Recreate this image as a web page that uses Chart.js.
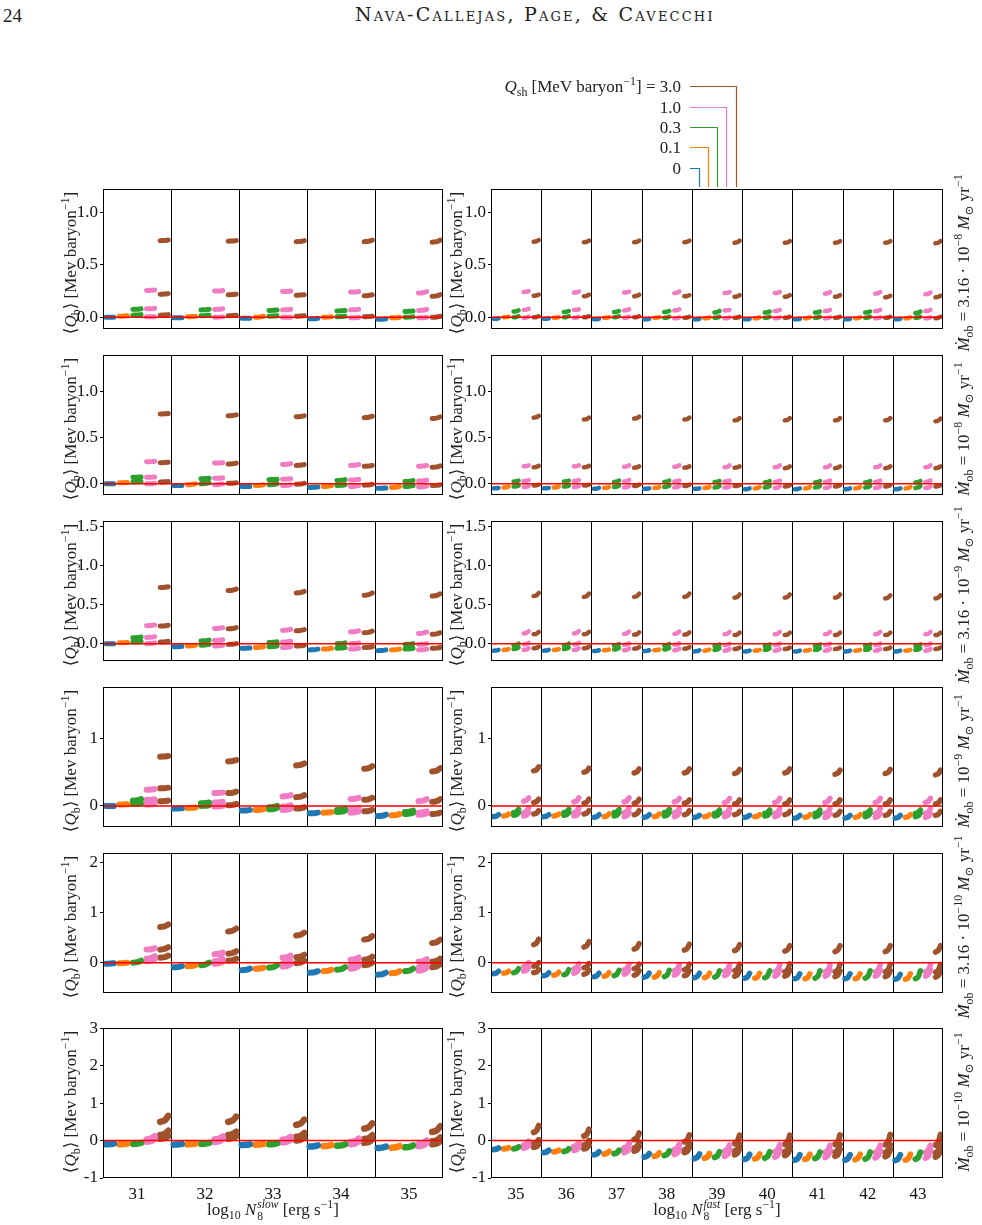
<!DOCTYPE html>
<html><head><meta charset="utf-8">
<script src="https://cdn.jsdelivr.net/npm/chart.js@4.4.1/dist/chart.umd.min.js"></script>
<style>
body{margin:0;background:#fff;width:982px;height:1225px;position:relative;overflow:hidden;font-family:'Liberation Serif','DejaVu Serif',serif;color:#222;}
.t{position:absolute;white-space:nowrap;font-size:17px;line-height:1;}
.rot{position:absolute;white-space:nowrap;transform:translate(-50%,-50%) rotate(-90deg);font-size:17px;line-height:1;}
canvas{position:absolute;}
sub,sup{font-size:70%;line-height:0;}
.ss{display:inline-block;vertical-align:-5px;line-height:1;font-size:68%;text-align:left;margin-left:1px;}
.ss span{display:block;}
</style></head><body>
<script>
// ---------- categories & labels ----------
const slowCats=[31,32,33,34,35];
const fastCats=[35,36,37,38,39,40,41,42,43];
const qshLabels=['0','0.1','0.3','1.0','3.0'];
const mdotLabels=['3.16 · 10<sup>−8</sup>','10<sup>−8</sup>','3.16 · 10<sup>−9</sup>','10<sup>−9</sup>','3.16 · 10<sup>−10</sup>','10<sup>−10</sup>'];
const yTicksRows=[[0,0.5,1],[0,0.5,1],[0,0.5,1,1.5],[0,1],[0,1,2],[-1,0,1,2,3]];
const yRangeRows=[[-0.11,1.22],[-0.12,1.4],[-0.22,1.57],[-0.31,1.76],[-0.6,2.18],[-1,3]];

// ---------- streak data: per category, pairs [start,end] of <Q_b> ----------
// slow, row 1
const slow1_blue=[[0,0],[-0.005,-0.005],[-0.01,-0.01],[-0.015,-0.01],[-0.02,-0.015]];
const slow1_orange=[[0.01,0.015],[0.005,0.01],[0,0.01],[0,0.005],[-0.005,0]];
const slow1_green=[[0.02,0.025,0.075,0.08],[0.015,0.02,0.07,0.075],[0.01,0.015,0.065,0.07],[0.005,0.01,0.06,0.065],[0,0.005,0.055,0.06]];
const slow1_pink=[[0.005,0.005,0.08,0.085,0.255,0.26],[0,0.005,0.075,0.08,0.25,0.255],[0,0,0.07,0.075,0.245,0.25],[-0.005,0,0.07,0.075,0.24,0.245],[-0.005,0,0.065,0.075,0.23,0.245]];
const slow1_brown=[[0.02,0.025,0.22,0.225,0.73,0.735],[0.015,0.02,0.215,0.22,0.725,0.73],[0.01,0.015,0.21,0.215,0.72,0.73],[0.005,0.01,0.205,0.215,0.72,0.735],[0,0.01,0.2,0.215,0.715,0.735]];
// fast, row 1
const fast1_blue=[[-0.015,-0.01],[-0.015,-0.01],[-0.02,-0.015],[-0.02,-0.015],[-0.02,-0.015],[-0.02,-0.015],[-0.02,-0.015],[-0.02,-0.015],[-0.02,-0.015]];
const fast1_orange=[[0,0.005],[-0.005,0],[-0.005,0],[-0.005,0],[-0.01,0],[-0.01,0],[-0.01,0],[-0.01,0],[-0.01,0]];
const fast1_green=[[0,0.01,0.055,0.065],[0,0.01,0.05,0.06],[0,0.01,0.05,0.06],[-0.005,0.005,0.05,0.06],[-0.005,0.005,0.045,0.06],[-0.005,0.005,0.045,0.055],[-0.005,0.005,0.045,0.055],[-0.005,0.005,0.045,0.055],[-0.005,0.005,0.04,0.055]];
const fast1_pink=[[-0.005,0.005,0.07,0.08,0.24,0.25],[-0.005,0.005,0.07,0.075,0.235,0.245],[-0.005,0.005,0.065,0.075,0.235,0.245],[-0.01,0,0.065,0.075,0.23,0.245],[-0.01,0,0.065,0.07,0.23,0.24],[-0.01,0,0.06,0.07,0.23,0.24],[-0.01,0,0.06,0.07,0.225,0.24],[-0.01,0,0.06,0.07,0.225,0.24],[-0.01,0,0.06,0.07,0.22,0.235]];
const fast1_brown=[[0,0.01,0.205,0.215,0.72,0.735],[0,0.01,0.2,0.215,0.715,0.73],[0,0.01,0.2,0.215,0.715,0.73],[-0.005,0.005,0.2,0.21,0.715,0.73],[-0.005,0.005,0.195,0.21,0.71,0.73],[-0.005,0.005,0.195,0.21,0.71,0.725],[-0.005,0.005,0.195,0.21,0.71,0.725],[-0.005,0.005,0.19,0.205,0.71,0.725],[-0.01,0.005,0.19,0.205,0.705,0.725]];
// slow, row 2
const slow2_blue=[[0,0],[-0.02,-0.02],[-0.03,-0.03],[-0.04,-0.035],[-0.05,-0.045]];
const slow2_orange=[[0.01,0.015],[-0.01,0],[-0.02,-0.01],[-0.03,-0.02],[-0.04,-0.03]];
const slow2_green=[[0.02,0.025,0.07,0.075],[0,0.01,0.055,0.06],[-0.01,0,0.045,0.05],[-0.02,-0.01,0.035,0.045],[-0.03,-0.02,0.025,0.035]];
const slow2_pink=[[0,0.005,0.07,0.075,0.24,0.245],[-0.01,0,0.06,0.065,0.225,0.23],[-0.02,-0.01,0.05,0.055,0.21,0.22],[-0.03,-0.02,0.04,0.05,0.2,0.21],[-0.035,-0.025,0.03,0.04,0.19,0.2]];
const slow2_brown=[[0.02,0.025,0.23,0.235,0.76,0.765],[0.005,0.01,0.215,0.225,0.74,0.75],[-0.005,0.005,0.2,0.21,0.73,0.74],[-0.015,-0.005,0.19,0.2,0.72,0.735],[-0.02,-0.01,0.18,0.195,0.71,0.73]];
// fast, row 2
const fast2_blue=[[-0.05,-0.045],[-0.05,-0.045],[-0.055,-0.045],[-0.055,-0.05],[-0.055,-0.05],[-0.06,-0.05],[-0.06,-0.05],[-0.06,-0.05],[-0.06,-0.05]];
const fast2_orange=[[-0.04,-0.03],[-0.04,-0.03],[-0.045,-0.035],[-0.045,-0.035],[-0.045,-0.035],[-0.05,-0.035],[-0.05,-0.035],[-0.05,-0.035],[-0.05,-0.035]];
const fast2_green=[[-0.03,-0.02,0.025,0.035],[-0.03,-0.02,0.025,0.035],[-0.035,-0.02,0.02,0.035],[-0.035,-0.02,0.02,0.035],[-0.04,-0.025,0.02,0.03],[-0.04,-0.025,0.015,0.03],[-0.04,-0.025,0.015,0.03],[-0.04,-0.025,0.015,0.03],[-0.045,-0.025,0.015,0.03]];
const fast2_pink=[[-0.035,-0.025,0.03,0.04,0.19,0.2],[-0.035,-0.025,0.03,0.04,0.19,0.2],[-0.04,-0.025,0.025,0.04,0.185,0.2],[-0.04,-0.025,0.025,0.035,0.185,0.2],[-0.04,-0.03,0.025,0.035,0.18,0.2],[-0.045,-0.03,0.02,0.035,0.18,0.2],[-0.045,-0.03,0.02,0.035,0.18,0.2],[-0.045,-0.03,0.02,0.035,0.18,0.2],[-0.045,-0.03,0.02,0.035,0.18,0.2]];
const fast2_brown=[[-0.02,-0.01,0.18,0.195,0.72,0.74],[-0.02,-0.01,0.18,0.195,0.7,0.72],[-0.025,-0.01,0.175,0.19,0.71,0.73],[-0.025,-0.01,0.175,0.19,0.7,0.72],[-0.025,-0.015,0.175,0.19,0.69,0.715],[-0.03,-0.015,0.17,0.19,0.69,0.715],[-0.03,-0.015,0.17,0.19,0.69,0.715],[-0.03,-0.015,0.17,0.19,0.69,0.715],[-0.03,-0.015,0.17,0.19,0.68,0.71]];
// slow, row 3
const slow3_blue=[[0,0],[-0.04,-0.035],[-0.06,-0.055],[-0.08,-0.07],[-0.09,-0.08]];
const slow3_orange=[[0.01,0.015],[-0.03,-0.02],[-0.05,-0.04],[-0.07,-0.06],[-0.08,-0.07]];
const slow3_green=[[0.02,0.03,0.075,0.085],[-0.02,-0.01,0.035,0.045],[-0.04,-0.03,0.015,0.025],[-0.06,-0.05,0,0.01],[-0.07,-0.06,-0.01,0]];
const slow3_pink=[[0,0.01,0.08,0.09,0.23,0.24],[-0.03,-0.02,0.04,0.05,0.195,0.205],[-0.05,-0.04,0.02,0.03,0.17,0.185],[-0.07,-0.06,0,0.01,0.15,0.165],[-0.08,-0.07,-0.01,0,0.13,0.15]];
const slow3_brown=[[0.02,0.03,0.225,0.235,0.72,0.73],[-0.01,0,0.19,0.205,0.68,0.7],[-0.03,-0.02,0.165,0.18,0.65,0.67],[-0.05,-0.04,0.14,0.16,0.62,0.65],[-0.06,-0.05,0.12,0.14,0.61,0.64]];
// fast, row 3
const fast3_blue=[[-0.09,-0.08],[-0.09,-0.08],[-0.095,-0.085],[-0.095,-0.085],[-0.1,-0.085],[-0.1,-0.09],[-0.1,-0.09],[-0.1,-0.09],[-0.1,-0.09]];
const fast3_orange=[[-0.08,-0.07],[-0.08,-0.07],[-0.085,-0.075],[-0.085,-0.075],[-0.09,-0.075],[-0.09,-0.08],[-0.09,-0.08],[-0.09,-0.08],[-0.09,-0.08]];
const fast3_green=[[-0.07,-0.05,-0.02,0],[-0.07,-0.05,-0.02,0],[-0.075,-0.055,-0.025,-0.005],[-0.075,-0.055,-0.025,-0.005],[-0.08,-0.06,-0.03,-0.01],[-0.08,-0.06,-0.03,-0.01],[-0.08,-0.06,-0.03,-0.01],[-0.08,-0.06,-0.03,-0.01],[-0.08,-0.06,-0.03,-0.01]];
const fast3_pink=[[-0.08,-0.06,-0.01,0.01,0.13,0.16],[-0.08,-0.06,-0.01,0.01,0.13,0.16],[-0.085,-0.065,-0.015,0.005,0.125,0.155],[-0.085,-0.065,-0.015,0.005,0.125,0.155],[-0.09,-0.07,-0.02,0,0.12,0.15],[-0.09,-0.07,-0.02,0,0.12,0.15],[-0.09,-0.07,-0.02,0,0.12,0.15],[-0.09,-0.07,-0.02,0,0.12,0.15],[-0.09,-0.07,-0.02,0,0.12,0.15]];
const fast3_brown=[[-0.06,-0.04,0.12,0.15,0.61,0.65],[-0.06,-0.04,0.12,0.15,0.6,0.64],[-0.065,-0.045,0.115,0.145,0.6,0.64],[-0.065,-0.045,0.115,0.145,0.6,0.64],[-0.07,-0.05,0.11,0.14,0.59,0.63],[-0.07,-0.05,0.11,0.14,0.59,0.63],[-0.07,-0.05,0.11,0.14,0.59,0.63],[-0.07,-0.05,0.11,0.14,0.58,0.62],[-0.07,-0.05,0.11,0.14,0.58,0.62]];
// slow, row 4
const slow4_blue=[[0,0],[-0.04,-0.035],[-0.07,-0.06],[-0.11,-0.1],[-0.15,-0.13]];
const slow4_orange=[[0.02,0.025],[-0.03,-0.025],[-0.06,-0.05],[-0.1,-0.09],[-0.14,-0.12]];
const slow4_green=[[0.03,0.04,0.08,0.1],[0,0.01,0.04,0.05],[-0.05,-0.03,-0.02,0],[-0.09,-0.07,-0.06,-0.04],[-0.12,-0.1,-0.09,-0.07]];
const slow4_pink=[[0.02,0.03,0.09,0.1,0.24,0.25],[-0.01,0,0.05,0.06,0.19,0.2],[-0.06,-0.04,-0.01,0.01,0.14,0.16],[-0.1,-0.08,-0.05,-0.03,0.1,0.12],[-0.13,-0.11,-0.1,-0.08,0.07,0.1]];
const slow4_brown=[[0.07,0.08,0.26,0.27,0.73,0.74],[0.01,0.03,0.19,0.21,0.66,0.68],[-0.04,-0.02,0.13,0.16,0.6,0.63],[-0.08,-0.06,0.09,0.12,0.55,0.59],[-0.12,-0.1,0.06,0.1,0.51,0.56]];
// fast, row 4
const fast4_blue=[[-0.16,-0.13],[-0.16,-0.13],[-0.17,-0.13],[-0.17,-0.13],[-0.17,-0.14],[-0.17,-0.14],[-0.18,-0.14],[-0.18,-0.14],[-0.18,-0.14]];
const fast4_orange=[[-0.15,-0.12],[-0.15,-0.12],[-0.16,-0.12],[-0.16,-0.12],[-0.16,-0.13],[-0.16,-0.13],[-0.17,-0.13],[-0.17,-0.13],[-0.17,-0.13]];
const fast4_green=[[-0.14,-0.1,-0.1,-0.05],[-0.14,-0.1,-0.1,-0.05],[-0.15,-0.1,-0.1,-0.05],[-0.15,-0.1,-0.1,-0.05],[-0.15,-0.11,-0.11,-0.06],[-0.15,-0.11,-0.11,-0.06],[-0.16,-0.11,-0.11,-0.06],[-0.16,-0.11,-0.11,-0.06],[-0.16,-0.11,-0.11,-0.06]];
const fast4_pink=[[-0.15,-0.1,-0.1,-0.03,0.07,0.12],[-0.15,-0.1,-0.1,-0.03,0.06,0.12],[-0.16,-0.1,-0.1,-0.03,0.06,0.12],[-0.16,-0.1,-0.1,-0.04,0.06,0.11],[-0.16,-0.11,-0.11,-0.04,0.05,0.11],[-0.16,-0.11,-0.11,-0.04,0.05,0.11],[-0.17,-0.11,-0.11,-0.04,0.05,0.11],[-0.17,-0.11,-0.11,-0.04,0.05,0.11],[-0.17,-0.11,-0.11,-0.04,0.05,0.11]];
const fast4_brown=[[-0.12,-0.07,0.05,0.1,0.52,0.58],[-0.12,-0.07,0.04,0.1,0.5,0.56],[-0.13,-0.07,0.04,0.1,0.49,0.55],[-0.13,-0.07,0.04,0.09,0.49,0.55],[-0.13,-0.08,0.03,0.09,0.48,0.54],[-0.13,-0.08,0.03,0.09,0.49,0.55],[-0.14,-0.08,0.03,0.09,0.47,0.53],[-0.14,-0.08,0.03,0.09,0.48,0.54],[-0.14,-0.08,0.03,0.09,0.46,0.53]];
// slow, row 5
const slow5_blue=[[-0.02,-0.01],[-0.09,-0.07],[-0.15,-0.12],[-0.2,-0.17],[-0.24,-0.2]];
const slow5_orange=[[-0.01,0],[-0.07,-0.05],[-0.12,-0.1],[-0.17,-0.14],[-0.21,-0.17]];
const slow5_green=[[0,0.04],[-0.05,0],[-0.1,-0.05],[-0.14,-0.09],[-0.17,-0.12]];
const slow5_pink=[[0.03,0.07,0.08,0.13,0.26,0.29],[-0.02,0.02,0.03,0.08,0.17,0.2],[-0.08,-0.03,-0.02,0.03,0.1,0.14],[-0.12,-0.07,-0.06,-0.01,0.06,0.1],[-0.16,-0.1,-0.1,-0.04,0.02,0.07]];
const slow5_brown=[[0.1,0.14,0.26,0.31,0.71,0.76],[0.04,0.08,0.18,0.23,0.62,0.68],[-0.01,0.04,0.11,0.16,0.54,0.6],[-0.05,0,0.06,0.12,0.46,0.53],[-0.09,-0.03,0.02,0.08,0.39,0.46]];
// fast, row 5
const fast5_blue=[[-0.22,-0.17],[-0.26,-0.2],[-0.28,-0.21],[-0.29,-0.21],[-0.3,-0.21],[-0.31,-0.21],[-0.32,-0.22],[-0.32,-0.22],[-0.33,-0.23]];
const fast5_orange=[[-0.21,-0.17],[-0.25,-0.19],[-0.27,-0.2],[-0.29,-0.2],[-0.3,-0.21],[-0.31,-0.21],[-0.32,-0.22],[-0.32,-0.22],[-0.33,-0.22]];
const fast5_green=[[-0.2,-0.12],[-0.24,-0.14],[-0.26,-0.15],[-0.28,-0.15],[-0.29,-0.16],[-0.3,-0.16],[-0.31,-0.16],[-0.31,-0.16],[-0.32,-0.16]];
const fast5_pink=[[-0.17,-0.1,-0.08,0],[-0.21,-0.12,-0.12,-0.02],[-0.23,-0.13,-0.14,-0.03],[-0.25,-0.13,-0.16,-0.04],[-0.26,-0.14,-0.17,-0.05],[-0.27,-0.14,-0.18,-0.05],[-0.27,-0.14,-0.18,-0.05],[-0.27,-0.14,-0.18,-0.05],[-0.27,-0.14,-0.18,-0.05]];
const fast5_brown=[[-0.2,-0.14,-0.07,0,0.36,0.47],[-0.23,-0.15,-0.1,-0.02,0.31,0.42],[-0.25,-0.16,-0.12,-0.03,0.27,0.38],[-0.26,-0.16,-0.14,-0.03,0.25,0.37],[-0.27,-0.16,-0.16,-0.03,0.24,0.36],[-0.27,-0.15,-0.18,-0.02,0.23,0.34],[-0.28,-0.16,-0.18,-0.03,0.22,0.34],[-0.28,-0.16,-0.18,-0.03,0.22,0.34],[-0.29,-0.16,-0.19,-0.03,0.21,0.34]];
// slow, row 6
const slow6_blue=[[-0.1,-0.08],[-0.11,-0.09],[-0.12,-0.1],[-0.16,-0.13],[-0.2,-0.16]];
const slow6_orange=[[-0.1,-0.08],[-0.1,-0.08],[-0.11,-0.09],[-0.15,-0.12],[-0.19,-0.15]];
const slow6_green=[[-0.09,-0.06],[-0.09,-0.06],[-0.1,-0.07],[-0.14,-0.1],[-0.18,-0.13]];
const slow6_pink=[[-0.03,0.04,0.03,0.12],[-0.04,0.04,0.03,0.11],[-0.05,0.03,0.02,0.1],[-0.1,-0.02,-0.04,0.05],[-0.15,-0.06,-0.1,0]];
const slow6_brown=[[0.05,0.12,0.15,0.26,0.5,0.66],[0.05,0.12,0.15,0.24,0.5,0.64],[0,0.08,0.1,0.2,0.42,0.56],[-0.06,0.03,0.04,0.14,0.32,0.46],[-0.1,-0.02,-0.02,0.08,0.23,0.38]];
// fast, row 6
const fast6_blue=[[-0.24,-0.2],[-0.32,-0.26],[-0.38,-0.3],[-0.44,-0.35],[-0.48,-0.36],[-0.5,-0.37],[-0.52,-0.38],[-0.52,-0.38],[-0.53,-0.38]];
const fast6_orange=[[-0.22,-0.19],[-0.3,-0.26],[-0.36,-0.29],[-0.42,-0.33],[-0.47,-0.35],[-0.49,-0.36],[-0.5,-0.37],[-0.51,-0.37],[-0.52,-0.37]];
const fast6_green=[[-0.22,-0.17],[-0.29,-0.22],[-0.35,-0.26],[-0.4,-0.28],[-0.45,-0.3],[-0.47,-0.3],[-0.48,-0.31],[-0.49,-0.31],[-0.5,-0.31]];
const fast6_pink=[[-0.2,-0.12,-0.12,-0.02],[-0.26,-0.16,-0.16,-0.06],[-0.32,-0.2,-0.2,-0.08],[-0.37,-0.22,-0.24,-0.1],[-0.42,-0.24,-0.28,-0.12],[-0.44,-0.25,-0.3,-0.12],[-0.45,-0.26,-0.31,-0.13],[-0.46,-0.26,-0.32,-0.13],[-0.47,-0.26,-0.32,-0.13]];
const fast6_brown=[[-0.18,-0.1,-0.08,0.02,0.22,0.4],[-0.22,-0.12,-0.12,0,0.12,0.3],[-0.28,-0.15,-0.2,-0.05,0.03,0.2],[-0.32,-0.18,-0.25,-0.08,-0.03,0.15],[-0.38,-0.2,-0.28,-0.1,-0.08,0.14],[-0.4,-0.22,-0.3,-0.1,-0.1,0.14],[-0.42,-0.23,-0.31,-0.1,-0.1,0.15],[-0.43,-0.23,-0.32,-0.11,-0.11,0.16],[-0.44,-0.24,-0.33,-0.11,-0.12,0.16]];

const slowData=[
 [slow1_blue,slow1_orange,slow1_green,slow1_pink,slow1_brown],
 [slow2_blue,slow2_orange,slow2_green,slow2_pink,slow2_brown],
 [slow3_blue,slow3_orange,slow3_green,slow3_pink,slow3_brown],
 [slow4_blue,slow4_orange,slow4_green,slow4_pink,slow4_brown],
 [slow5_blue,slow5_orange,slow5_green,slow5_pink,slow5_brown],
 [slow6_blue,slow6_orange,slow6_green,slow6_pink,slow6_brown]];
const fastData=[
 [fast1_blue,fast1_orange,fast1_green,fast1_pink,fast1_brown],
 [fast2_blue,fast2_orange,fast2_green,fast2_pink,fast2_brown],
 [fast3_blue,fast3_orange,fast3_green,fast3_pink,fast3_brown],
 [fast4_blue,fast4_orange,fast4_green,fast4_pink,fast4_brown],
 [fast5_blue,fast5_orange,fast5_green,fast5_pink,fast5_brown],
 [fast6_blue,fast6_orange,fast6_green,fast6_pink,fast6_brown]];

// ---------- styling / layout ----------
const qshColors=['#1f77b4','#ff7f0e','#2ca02c','#f07cc4','#a0522d'];
const colX=[[103,443],[491,943]];
const rowY=[[187,339],[353,505],[519,671],[685,837],[851,1003],[1026,1178]];
const rowLineW=[5,5,5,6,6,6.5];
const groupOffset=[-0.4,-0.2,0,0.2,0.4];

const framePlugin={
  id:'frame',
  beforeDatasetsDraw(chart,args,opts){
    const {ctx,chartArea:a,scales:{x}}=chart; const cats=opts.cats;
    ctx.save(); ctx.strokeStyle='#000'; ctx.lineWidth=1;
    for(let i=0;i<cats.length-1;i++){
      const px=Math.round(x.getPixelForValue((cats[i]+cats[i+1])/2))+0.5;
      ctx.beginPath(); ctx.moveTo(px,a.top); ctx.lineTo(px,a.bottom); ctx.stroke();
    }
    ctx.restore();
  },
  afterDraw(chart){
    const {ctx,chartArea:a}=chart;
    ctx.save(); ctx.strokeStyle='#000'; ctx.lineWidth=1;
    ctx.strokeRect(Math.round(a.left)+0.5,Math.round(a.top)+0.5,Math.round(a.right-a.left)-1,Math.round(a.bottom-a.top)-1);
    ctx.restore();
  }
};

function streakPoints(cats,series,g,hw){
  const pts=[];
  series.forEach((arr,ci)=>{
    const c=cats[ci];
    for(let k=0;k<arr.length;k+=2){
      const s=arr[k],e=arr[k+1];
      const x0=c+groupOffset[g]-hw, x1=c+groupOffset[g]+hw;
      pts.push({x:x0,y:s},{x:x0+(x1-x0)*0.55,y:s+(e-s)*0.25},{x:x1,y:e},{x:x1,y:null});
    }
  });
  return pts;
}

function makePanel(row,col){
  const cats=col===0?slowCats:fastCats;
  const data=(col===0?slowData:fastData)[row];
  const [l,r]=colX[col],[t,b]=rowY[row];
  const padL=50,padT=10,padR=2,padB=row===5?30:2;
  const cv=document.createElement('canvas');
  const w=r-l+padL+padR,h=b-t+padT+padB;
  cv.width=w;cv.height=h;cv.style.left=(l-padL)+'px';cv.style.top=(t-padT)+'px';
  cv.style.width=w+'px';cv.style.height=h+'px';
  document.body.appendChild(cv);
  const hw=col===0?0.06:0.05, lw=rowLineW[row]*(col===0?1:0.9);
  const datasets=[{data:[{x:cats[0]-0.5,y:0},{x:cats[cats.length-1]+0.5,y:0}],borderColor:'#ff0000',borderWidth:1.5,pointRadius:0,order:0}];
  data.forEach((series,g)=>{
    datasets.push({data:streakPoints(cats,series,g,hw),borderColor:qshColors[g],borderWidth:lw,borderCapStyle:'round',borderJoinStyle:'round',tension:0.4,pointRadius:0,spanGaps:false,order:1});
  });
  const ticks=yTicksRows[row];
  const dec=row<3?1:0;
  new Chart(cv,{type:'line',data:{datasets},plugins:[framePlugin],
    options:{responsive:false,animation:false,devicePixelRatio:1,
      layout:{padding:{top:padT,right:padR,left:0,bottom:row===5?0:padB}},
      plugins:{legend:{display:false},tooltip:{enabled:false},frame:{cats}},
      scales:{
        x:{type:'linear',min:cats[0]-0.5,max:cats[cats.length-1]+0.5,
           grid:{display:false,drawTicks:false},border:{display:false},
           afterBuildTicks:s=>{s.ticks=cats.map(v=>({value:v}));},
           afterFit:s=>{s.height=row===5?padB:0;},
           ticks:{display:row===5,autoSkip:false,maxRotation:0,padding:6,color:'#111',font:{family:"'Liberation Serif', serif",size:17},callback:v=>String(v)}},
        y:{type:'linear',min:yRangeRows[row][0],max:yRangeRows[row][1],
           afterBuildTicks:s=>{s.ticks=ticks.map(v=>({value:v}));},
           afterFit:s=>{s.width=padL;},
           grid:{drawOnChartArea:false,drawTicks:true,tickLength:3,color:'#000'},border:{display:false},
           ticks:{padding:2,color:'#111',font:{family:"'Liberation Serif', serif",size:17},callback:v=>Number(v).toFixed(dec)}}
      }}});
}

for(let row=0;row<6;row++){makePanel(row,0);makePanel(row,1);}

// ---------- text ----------
function addDiv(cls,html,style){const d=document.createElement('div');d.className=cls;d.innerHTML=html;Object.assign(d.style,style);document.body.appendChild(d);return d;}
addDiv('t','24',{left:'3px',top:'6px',fontSize:'19px'});
addDiv('t','Nava-Callejas, Page, &amp; Cavecchi',{left:'355px',top:'5px',fontSize:'19px',fontVariant:'small-caps',fontFamily:"'DejaVu Serif', serif",letterSpacing:'2.2px'});
const qbTitle='⟨<i>Q</i><sub>b</sub>⟩ [Mev baryon<sup>−1</sup>]';
for(let row=0;row<6;row++){
  const cy=(rowY[row][0]+rowY[row][1])/2;
  addDiv('rot',qbTitle,{left:'70px',top:cy+'px'});
  addDiv('rot',qbTitle,{left:'456px',top:cy+'px'});
  addDiv('rot','<i>Ṁ</i><sub>ob</sub> = '+mdotLabels[row]+' <i>M</i><sub>⊙</sub> yr<sup>−1</sup>',{left:'963px',top:cy+'px'});
}
addDiv('t','log<sub>10</sub> <i>N</i><span class="ss"><span><i>slow</i></span><span>8</span></span> [erg s<sup>−1</sup>]',{left:'273px',top:'1211px',transform:'translate(-50%,-50%)'});
addDiv('t','log<sub>10</sub> <i>N</i><span class="ss"><span><i>fast</i></span><span>8</span></span> [erg s<sup>−1</sup>]',{left:'717px',top:'1211px',transform:'translate(-50%,-50%)'});

// legend
const legY=[168,147,127,107,86];
const legEndX=[699,708,717,726,736];
for(let g=0;g<5;g++){
  const txt=g===4?'<i>Q</i><sub>sh</sub> [MeV baryon<sup>−1</sup>] = 3.0':qshLabels[g];
  addDiv('t',txt,{right:(982-681)+'px',top:legY[g]+'px',transform:'translateY(-50%)'});
}
const svgNS='http://www.w3.org/2000/svg';
const svg=document.createElementNS(svgNS,'svg');
svg.setAttribute('width','982');svg.setAttribute('height','200');
svg.style.position='absolute';svg.style.left='0';svg.style.top='0';
for(let g=0;g<5;g++){
  const p=document.createElementNS(svgNS,'polyline');
  p.setAttribute('points',`690,${legY[g]+0.5} ${legEndX[g]+0.5},${legY[g]+0.5} ${legEndX[g]+0.5},187`);
  p.setAttribute('fill','none');p.setAttribute('stroke',qshColors[g]);p.setAttribute('stroke-width','1.2');
  svg.appendChild(p);
}
document.body.appendChild(svg);
</script>
</body></html>
